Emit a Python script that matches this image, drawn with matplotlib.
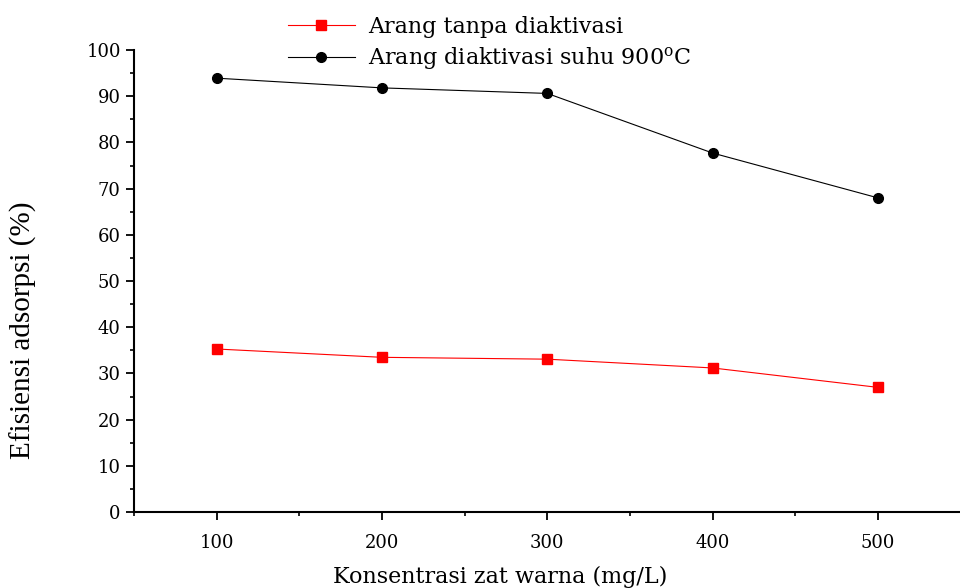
import matplotlib
matplotlib.use('Agg')
import matplotlib.pyplot as plt
from matplotlib.ticker import MultipleLocator

konsentrasi = [100, 200, 300, 400, 500]
tanpa_aktivasi = [35.3, 33.5, 33.1, 31.2, 27.0]
aktivasi_900 = [93.9, 91.8, 90.6, 77.7, 68.0]

label_tanpa = 'Arang tanpa diaktivasi'
label_900 = 'Arang diaktivasi suhu 900$^{\\mathrm{o}}$C'

plt.rcParams['font.family'] = ['DejaVu Serif']
plt.rcParams['mathtext.fontset'] = 'dejavuserif'

fig = plt.figure(figsize=(9.6, 5.88), dpi=100)
ax = fig.add_axes([0.1396, 0.129, 0.861, 0.786])

ax.plot(konsentrasi, tanpa_aktivasi, color='red', linewidth=0.8, marker='s',
        markersize=7, label=label_tanpa)
ax.plot(konsentrasi, aktivasi_900, color='black', linewidth=0.8, marker='o',
        markersize=7, label=label_900)

ax.set_xlim(50, 550)
ax.set_ylim(0, 100)
ax.xaxis.set_major_locator(MultipleLocator(100))
ax.xaxis.set_minor_locator(MultipleLocator(50))
ax.yaxis.set_major_locator(MultipleLocator(10))
ax.yaxis.set_minor_locator(MultipleLocator(5))

ax.spines['top'].set_visible(False)
ax.spines['right'].set_visible(False)
ax.spines['left'].set_linewidth(1.5)
ax.spines['bottom'].set_linewidth(1.5)
ax.tick_params(which='major', direction='out', length=6, width=1.3, labelsize=13)
ax.tick_params(which='minor', direction='out', length=3, width=1.2)
ax.tick_params(axis='x', pad=10)

ax.set_xlabel('Konsentrasi zat warna (mg/L)', fontsize=16)
ax.xaxis.set_label_coords((500 - 134) / 826, -0.117)
ax.set_ylabel('Efisiensi adsorpsi (%)', fontsize=21, family='Liberation Serif')
ax.yaxis.set_label_coords(-0.117, 0.394)

fig.legend(loc='upper left', bbox_to_anchor=(0.279, 1.007), frameon=False,
           fontsize=16, handlelength=3.0, labelspacing=0.35, handletextpad=0.6)

plt.savefig('out.png', dpi=100)
